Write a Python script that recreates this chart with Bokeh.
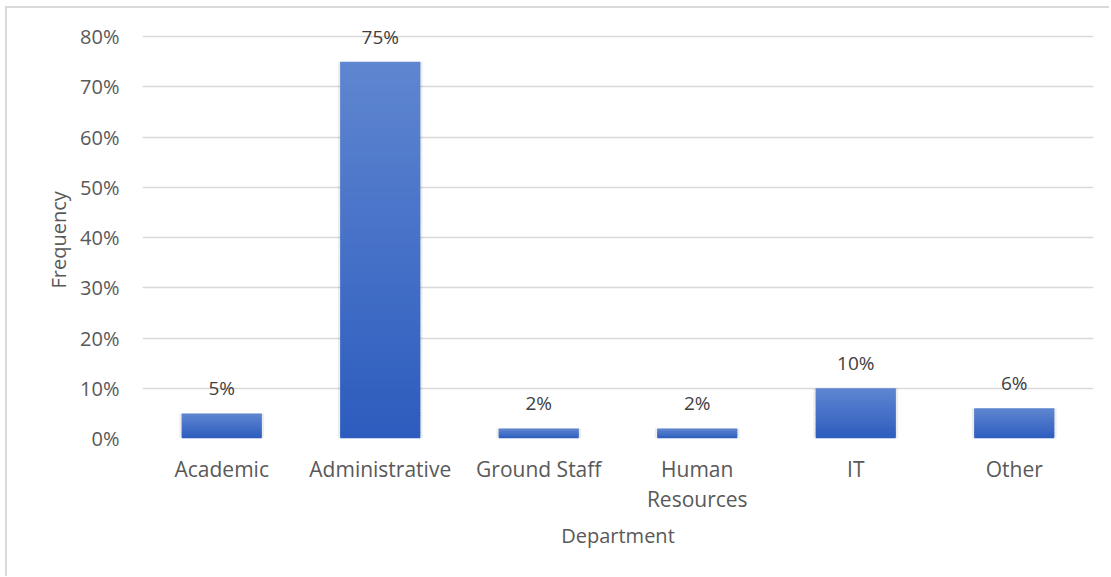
from bokeh.plotting import figure
from bokeh.models import ColumnDataSource, NumeralTickFormatter, FixedTicker, Range1d, LabelSet, Title
from bokeh.core.properties import value
from bokeh.embed import file_html
from bokeh.resources import INLINE
import numpy as np

departments = ["Academic", "Administrative", "Ground Staff", "Human\nResources", "IT", "Other"]
frequency = [0.05, 0.75, 0.02, 0.02, 0.10, 0.06]
labels = ["5%", "75%", "2%", "2%", "10%", "6%"]
y_ticks = [0, 0.1, 0.2, 0.3, 0.4, 0.5, 0.6, 0.7, 0.8]

FONT = "Open Sans"
TXT = "#595959"

p = figure(x_range=departments, width=1104, height=570, output_backend="svg",
           toolbar_location=None, min_border_left=135, min_border_right=18,
           min_border_top=8, min_border_bottom=140,
           styles={"border-left": "2px solid #d9d9d9", "border-top": "2px solid #d9d9d9",
                   "margin-left": "5px", "margin-top": "6px"})
p.y_range = Range1d(0, 0.84)
p.outline_line_color = None
p.background_fill_color = "white"

# gradient bars: slices from bottom to top of each bar (per-bar gradient)
top_c = np.array([0x5f, 0x86, 0xd0])
bot_c = np.array([0x2c, 0x5c, 0xbe])
xs, bottoms, tops, cols = [], [], [], []
for d, v in zip(departments, frequency):
    n = max(3, int(round(v / 0.005)))
    for i in range(n):
        t = (i + 0.5) / n
        c = bot_c + (top_c - bot_c) * t
        xs.append(d)
        bottoms.append(v * i / n)
        tops.append(min(v, v * (i + 1) / n + 0.003))
        cols.append("#%02x%02x%02x" % tuple(int(round(q)) for q in c))

# soft shadow
p.vbar(x=departments, top=frequency, width=0.535, bottom=0, fill_color="#000000",
       fill_alpha=0.07, line_color=None)
p.vbar(x=xs, bottom=bottoms, top=tops, width=0.505, fill_color=cols, line_color=None)

src = ColumnDataSource(dict(x=departments, y=frequency, t=labels))
p.add_layout(LabelSet(x="x", y="y", text="t", source=src, text_align="center",
                      text_baseline="bottom", y_offset=12, text_font=value(FONT),
                      text_font_size="19px", text_color="#404040"))

p.yaxis.ticker = FixedTicker(ticks=y_ticks)
p.yaxis.formatter = NumeralTickFormatter(format="0%")
p.ygrid.ticker = FixedTicker(ticks=y_ticks)
p.ygrid.grid_line_color = "#d9d9d9"
p.ygrid.grid_line_width = 1.5
p.xgrid.grid_line_color = None

for ax in (p.xaxis, p.yaxis):
    ax.axis_line_color = None
    ax.major_tick_line_color = None
    ax.minor_tick_line_color = None
    ax.major_label_text_font = FONT
    ax.major_label_text_color = TXT
    ax.axis_label_text_font = FONT
    ax.axis_label_text_font_size = "20px"
    ax.axis_label_text_color = TXT
    ax.axis_label_text_font_style = "normal"

p.yaxis.major_label_text_font_size = "20px"
p.xaxis.major_label_text_font_size = "21px"
p.xaxis.major_label_text_line_height = 1.08
p.yaxis.major_label_standoff = 17
p.xaxis.major_label_standoff = 10
p.xaxis.axis_label = "Department"
p.xaxis.axis_label_standoff = 6

# y-axis title, centred on the 0-80% span rather than on the extended frame
ytitle = Title(text="Frequency", align="left", offset=150, standoff=12,
               text_font=FONT, text_font_size="20px", text_color=TXT,
               text_font_style="normal")
p.add_layout(ytitle, "left")

open("out.html", "w").write(file_html(p, INLINE))
